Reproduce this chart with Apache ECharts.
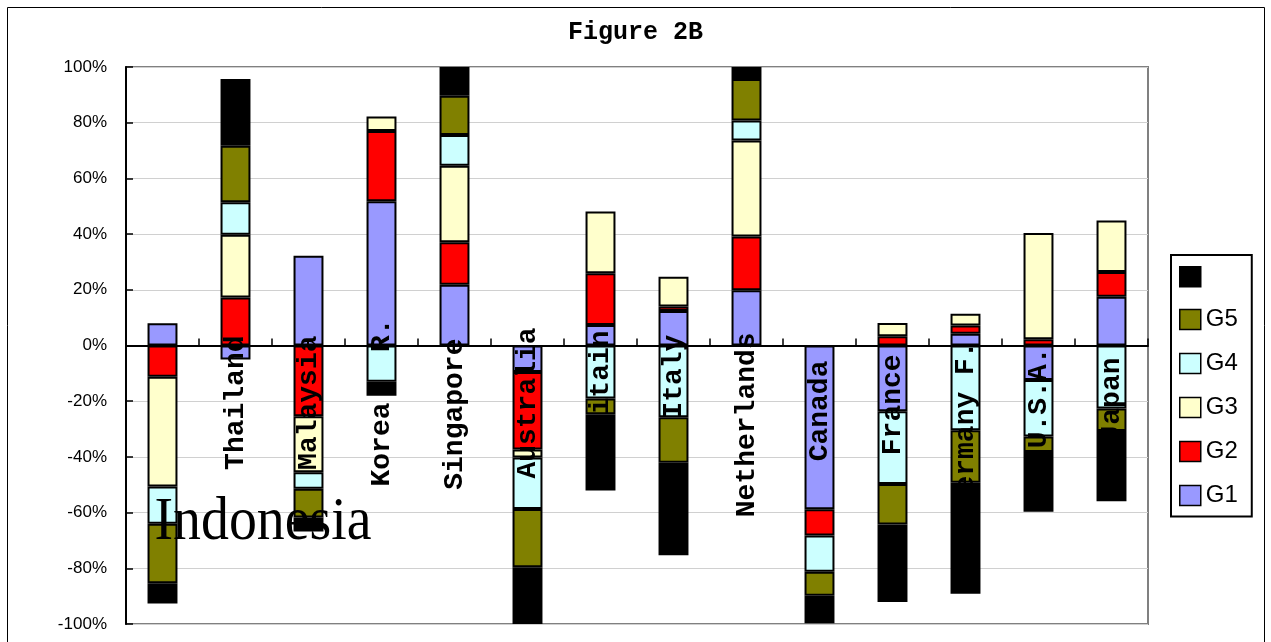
<!DOCTYPE html>
<html>
<head>
<meta charset="utf-8">
<script src="https://cdn.jsdelivr.net/npm/echarts@6/dist/echarts.min.js"></script>
<style>
html,body{margin:0;padding:0;background:#fff;}
#chart{width:1271px;height:642px;}
</style>
</head>
<body>
<div id="chart"></div>
<script>
// ---- data ----
const categories = ['Indonesia','Thailand','Malaysia','Korea   R.','Singapore','Australia','Britain','Italy','Netherlands','Canada','France','Germany F.','U.S.A.','Japan'];
const seriesNames = ['G1','G2','G3','G4','G5','G6'];
const g1 = [8.0, -5.0, 32.2, 51.8, 21.8, -9.5, 7.4, 12.4, 19.8, -58.8, -23.6, 4.2, -12.4, 17.5];
const g2 = [-11.2, 17.2, -25.4, 25.2, 15.3, -27.8, 18.5, 1.6, 19.3, -9.4, 3.3, 3.0, 2.2, 8.9];
const g3 = [-39.4, 22.6, -20.1, 5.2, 27.4, -2.9, 22.2, 10.7, 34.5, null, 4.8, 4.2, 38.2, 18.5];
const g4 = [-13.4, 11.6, -5.9, -13.0, 11.1, -18.5, -19.0, -25.8, 7.2, -13.0, -26.1, -30.4, -20.3, -22.6];
const g5 = [-21.4, 20.3, -10.4, null, 14.1, -20.9, -5.7, -16.3, 14.9, -8.7, -14.6, -18.9, -5.5, -8.1];
const g6 = [-7.2, 24.0, -5.0, -5.0, 10.3, -20.4, -27.4, -33.2, 4.3, -9.8, -27.8, -39.8, -21.5, -25.2];
const yTicks = [-100,-80,-60,-40,-20,0,20,40,60,80,100];

// ---- layout (label anchors, in axis units) ----
const labelAnchor = [-63.5, 3.6, 3.6, 9.7, 2.5, 6.5, 5.4, 3.9, 4.7, -5.4, -3.2, 1.5, -0.7, -4.3];

const colors = ['#9999FF','#FF0000','#FFFFCC','#CCFFFF','#808000','#000000'];
const values = [g1,g2,g3,g4,g5,g6];

const chart = echarts.init(document.getElementById('chart'), null, {renderer:'canvas'});

const barSeries = seriesNames.map((n,k)=>({
  name:n, type:'bar', stack:'total', stackStrategy:'samesign',
  barWidth:'41%', data: values[k],
  z: k===5 ? 5 : 2,
  itemStyle:{color:colors[k], borderColor:'#000', borderWidth:2},
  emphasis:{disabled:true}, animation:false
}));

const labelSeries = {
  type:'custom', name:'labels', z:3, animation:false, silent:true,
  data: categories.map((c,i)=>[i, labelAnchor[i]]),
  renderItem(params, api){
    const i = api.value(0);
    const p = api.coord([i, api.value(1)]);
    const name = categories[i];
    if (i === 0) {
      return {type:'text', x:p[0]-8, y:p[1], scaleX:0.9,
        style:{text:name, fontFamily:'"Liberation Serif", serif', fontSize:62, fill:'#000', align:'left', verticalAlign:'middle'}};
    }
    return {type:'text', x:p[0], y:p[1], rotation:Math.PI/2,
      style:{text:name, fontFamily:'"Liberation Mono", monospace', fontWeight:'bold', fontSize:28, fill:'#000', align:'right', verticalAlign:'middle'}};
  }
};

chart.setOption({
  animation:false,
  backgroundColor:'#fff',
  title:{text:'Figure 2B', left:'center', top:15,
    textStyle:{fontFamily:'"Liberation Mono", monospace', fontWeight:'bold', fontSize:25, color:'#000'}},
  legend:{
    data:['G6','G5','G4','G3','G2','G1'],
    orient:'vertical', left:1171, top:255,
    padding:[11,14,9,8], itemGap:20, itemWidth:21, itemHeight:20,
    icon:'rect', backgroundColor:'#fff', borderColor:'#000', borderWidth:2,
    formatter: n => n==='G6' ? '' : n,
    textStyle:{fontFamily:'"Liberation Sans", sans-serif', fontSize:24, color:'#000'},
    itemStyle:{borderColor:'#000', borderWidth:1.5},
    selectedMode:false
  },
  grid:{left:126, top:67, width:1022, height:557, show:true, borderColor:'#808080', borderWidth:2, backgroundColor:'#fff'},
  xAxis:{type:'category', data:categories,
    axisLine:{onZero:true, lineStyle:{color:'#000', width:2}},
    axisTick:{show:true, inside:true, length:7, interval:0, lineStyle:{color:'#000', width:1.5}},
    axisLabel:{show:false}, splitLine:{show:false}},
  yAxis:{type:'value', min:yTicks[0], max:yTicks[yTicks.length-1], interval:20,
    axisLine:{show:true, lineStyle:{color:'#000', width:2}},
    axisTick:{show:true, inside:true, length:7, lineStyle:{color:'#000', width:1.5}},
    axisLabel:{formatter:v=>v+'%', margin:19, fontFamily:'"Liberation Sans", sans-serif', fontSize:17, color:'#000'},
    splitLine:{show:true, lineStyle:{color:'#d0d0d0', width:1}}},
  graphic:[{type:'rect', shape:{x:7.5, y:7.5, width:1257, height:640}, style:{fill:null, stroke:'#000', lineWidth:1}, z:-1, silent:true}],
  series:[...barSeries, labelSeries]
});
</script>
</body>
</html>
